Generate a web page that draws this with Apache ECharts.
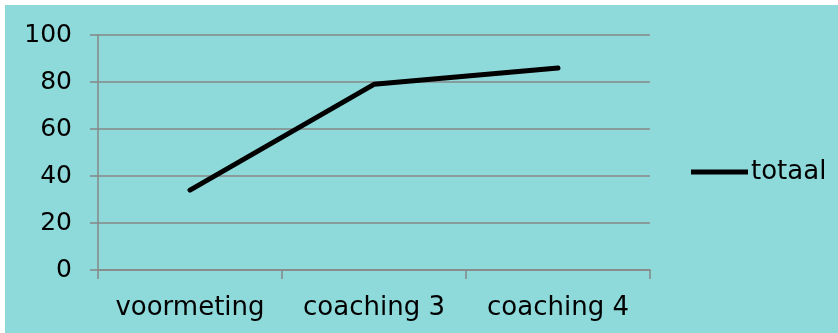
<!DOCTYPE html>
<html>
<head>
<meta charset="utf-8">
<script src="https://cdn.jsdelivr.net/npm/echarts@6/dist/echarts.min.js"></script>
<style>
html,body{margin:0;padding:0;background:#ffffff;}
#bg{position:absolute;left:5px;top:5px;width:833px;height:328px;background:#8ED9DA;}
#chart{position:absolute;left:0;top:0;width:838px;height:333px;}
</style>
</head>
<body>
<div id="bg"></div>
<div id="chart"></div>
<script>
const categories = ['voormeting', 'coaching 3', 'coaching 4'];
const totaal = [34, 79, 86];
const yTicks = [0, 20, 40, 60, 80, 100];

const gray = '#878787';
const font = 'DejaVu Sans, Verdana, sans-serif';
const chart = echarts.init(document.getElementById('chart'), null, {renderer: 'canvas'});
chart.setOption({
  backgroundColor: 'transparent',
  animation: false,
  grid: {left: 98, right: 188, top: 35, bottom: 63, containLabel: false},
  legend: {
    data: [{name: 'totaal', icon: 'rect'}],
    left: 686, top: 154,
    orient: 'vertical',
    itemWidth: 57, itemHeight: 5,
    itemGap: 0,
    textStyle: {fontFamily: font, fontSize: 26, color: '#000', padding: [0,0,0,-2]}
  },
  xAxis: {
    type: 'category',
    data: categories,
    boundaryGap: true,
    axisLine: {show: true, lineStyle: {color: gray, width: 1.5}},
    axisTick: {show: true, length: 9, interval: 0, alignWithLabel: false, lineStyle: {color: gray, width: 1.5}},
    axisLabel: {fontFamily: font, fontSize: 26, color: '#000', margin: 25, interval: 0},
    splitLine: {show: false}
  },
  yAxis: {
    type: 'value',
    min: yTicks[0], max: yTicks[yTicks.length - 1], interval: 20,
    axisLine: {show: true, lineStyle: {color: gray, width: 1.5}},
    axisTick: {show: true, length: 8, inside: false, lineStyle: {color: gray, width: 1.5}},
    axisLabel: {fontFamily: font, fontSize: 25, color: '#000', margin: 26, padding: [9, 0, 0, 0]},
    splitLine: {show: true, lineStyle: {color: gray, width: 1.5}}
  },
  series: [{
    name: 'totaal',
    type: 'line',
    data: totaal,
    symbol: 'none',
    itemStyle: {color: '#000'},
    lineStyle: {color: '#000', width: 5, cap: 'round', join: 'round'}
  }]
});
</script>
</body>
</html>
